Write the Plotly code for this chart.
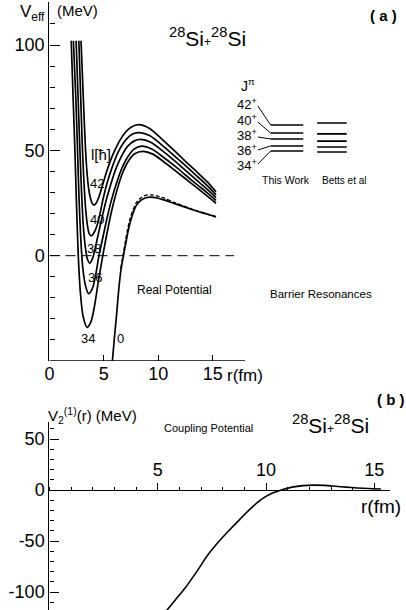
import plotly.graph_objects as go

W, H = 406, 610
FONT = "Liberation Sans, Arial, sans-serif"
BLACK = "black"

# ---------------- data : panel (a)  effective potentials V_eff(r) ----------------
r_34 = [2.0, 2.18, 2.35, 2.5, 2.65, 2.85, 3.1, 3.45, 3.8, 4.1, 4.5, 4.9, 5.3, 5.7, 6.2, 6.7, 7.2, 7.8, 8.6, 9.5, 10.5, 11.5, 12.5, 13.5, 14.5, 15.3]
v_34 = [102, 74, 48, 22, 0, -18, -29, -34, -31.5, -25, -12, 0, 11, 21, 31, 39, 44.5, 48.3, 49.5, 48.2, 44.6, 40.6, 36.5, 32.4, 28.3, 24.9]

r_36 = [2.2, 2.43, 2.58, 2.72, 2.88, 3.05, 3.3, 3.6, 3.95, 4.25, 4.55, 4.9, 5.3, 5.7, 6.2, 6.7, 7.2, 7.8, 8.5, 9.4, 10.5, 11.5, 12.5, 13.5, 14.5, 15.3]
v_36 = [102, 74, 50, 27, 8, -5, -14, -18, -15.5, -9, 0, 8.5, 18, 26.5, 35, 42, 47, 50.7, 52, 50.6, 46.6, 42.6, 38.3, 34, 29.8, 26.2]

r_38 = [2.45, 2.64, 2.8, 2.95, 3.1, 3.3, 3.5, 3.7, 3.95, 4.2, 4.5, 4.85, 5.25, 5.7, 6.2, 6.7, 7.2, 7.8, 8.4, 9.3, 10.5, 11.5, 12.5, 13.5, 14.5, 15.3]
v_38 = [102, 74, 50, 30, 15, 4, -1.8, -3.5, -1.5, 3.5, 10.5, 18.5, 27, 35, 42.5, 48, 52, 54.5, 55.2, 53.8, 49.3, 45, 40.5, 36, 31.5, 27.6]

r_40 = [2.7, 2.88, 3.02, 3.17, 3.33, 3.5, 3.65, 3.85, 4.05, 4.35, 4.65, 4.95, 5.35, 5.8, 6.3, 6.8, 7.3, 7.8, 8.3, 9.2, 10.5, 11.5, 12.5, 13.5, 14.5, 15.3]
v_40 = [102, 74, 52, 35, 22, 14, 10.5, 9.4, 10.5, 14, 20, 27.5, 35.5, 42.5, 49, 53.5, 56.5, 58.1, 58.4, 57, 51.8, 47.3, 42.7, 38, 33.3, 28.9]

r_42 = [2.9, 3.12, 3.27, 3.43, 3.6, 3.78, 3.95, 4.1, 4.3, 4.55, 4.85, 5.2, 5.6, 6.0, 6.5, 7.0, 7.5, 8.2, 9.2, 10.5, 11.5, 12.5, 13.5, 14.5, 15.3]
v_42 = [102, 74, 55, 41, 32, 27, 24.6, 24, 25, 28, 33, 39, 45, 50, 55, 58.7, 61, 62.2, 60.4, 54.5, 49.7, 44.8, 40, 35, 30.3]

r_l0 = [5.75, 5.95, 6.15, 6.35, 6.55, 6.8, 7.0, 7.2, 7.4, 7.7, 8.0, 8.4, 8.8, 9.3, 9.8, 10.5, 11.5, 12.6, 13.5, 14.5, 15.3]
v_l0 = [-52, -40, -29, -17, -7.5, 0, 5.5, 11, 15.5, 20.5, 24, 26.3, 27.4, 27.8, 27.5, 26.5, 24.7, 22.8, 21.2, 19.7, 18.4]

r_real = [6.55, 6.8, 7.0, 7.2, 7.4, 7.7, 8.0, 8.4, 8.8, 9.3, 9.8, 10.5, 11.5, 12.6, 13.5, 14.5, 15.3]
v_real = [-6, 1.5, 7.5, 13, 17.5, 22, 25.3, 27.5, 28.6, 28.9, 28.5, 27.4, 25.2, 23.1, 21.4, 19.8, 18.5]

l_labels = ["42", "40", "38", "36", "34", "0"]

# ---------------- data : level scheme (barrier resonances) ----------------
jpi_labels = ["42<sup>+</sup>", "40<sup>+</sup>", "38<sup>+</sup>", "36<sup>+</sup>", "34<sup>+</sup>"]
e_this_work = [62.0, 58.2, 55.4, 52.1, 49.7]
e_betts = [63.0, 57.8, 54.4, 51.6, 49.2]

# ---------------- data : panel (b) coupling potential ----------------
r_c = [5.3, 5.8, 6.3, 6.8, 7.3, 7.8, 8.3, 8.8, 9.3, 9.8, 10.3, 10.7, 11.2, 11.7, 12.2, 12.7, 13.2, 13.7, 14.2, 14.7, 15.3]
v_c = [-121, -108, -95, -80, -64, -51, -39.5, -28.5, -18, -9, -3, 0, 2.8, 4.3, 4.8, 4.5, 3.7, 2.8, 2.0, 1.4, 1.0]

# ---------------- geometry (pixel calibration of the page) ----------------
PX_FM_A, PX_MEV_A = 11.02, 2.107
X0 = 45
YA_ZERO, YA_BOT, YA_TOP = 255.7, 361, 2
PX_FM_B, PX_MEV_B = 21.93, 1.02
YB_ZERO, YB_TOP, YB_BOT = 490, 422, 610
XB_END = 390


def px(xp):
    return xp / W


def py(yp):
    return 1 - yp / H


fig = go.Figure()

line_style = dict(color=BLACK, width=1.7, shape="spline", smoothing=0.8)
for rr, vv in [(r_34, v_34), (r_36, v_36), (r_38, v_38), (r_40, v_40), (r_42, v_42), (r_l0, v_l0)]:
    fig.add_trace(go.Scatter(x=rr, y=vv, mode="lines", line=line_style, xaxis="x", yaxis="y",
                             hoverinfo="skip", showlegend=False))
fig.add_trace(go.Scatter(x=r_real, y=v_real, mode="lines",
                         line=dict(color=BLACK, width=1.3, dash="4px,2px", shape="spline", smoothing=0.8),
                         xaxis="x", yaxis="y", hoverinfo="skip", showlegend=False))

# level scheme
TW_X = ((269 - X0) / PX_FM_A, (302 - X0) / PX_FM_A)
BE_X = ((316 - X0) / PX_FM_A, (346 - X0) / PX_FM_A)
CONN_X = (256 - X0) / PX_FM_A
label_py = [104, 120, 135, 150, 165]
conn_py = [106, 122, 137, 150, 164]
for i, e in enumerate(e_this_work):
    fig.add_trace(go.Scatter(x=list(TW_X), y=[e, e], mode="lines", line=dict(color=BLACK, width=1.6),
                             xaxis="x", yaxis="y", hoverinfo="skip", showlegend=False))
    cy = (YA_ZERO - conn_py[i]) / PX_MEV_A
    fig.add_trace(go.Scatter(x=[CONN_X, TW_X[0]], y=[cy, e], mode="lines", line=dict(color=BLACK, width=1.0),
                             xaxis="x", yaxis="y", hoverinfo="skip", showlegend=False))
for e in e_betts:
    fig.add_trace(go.Scatter(x=list(BE_X), y=[e, e], mode="lines", line=dict(color=BLACK, width=1.6),
                             xaxis="x", yaxis="y", hoverinfo="skip", showlegend=False))

# coupling potential
fig.add_trace(go.Scatter(x=r_c, y=v_c, mode="lines", line=dict(color=BLACK, width=1.6, shape="spline", smoothing=0.8),
                         xaxis="x2", yaxis="y2", hoverinfo="skip", showlegend=False))

tickfont = dict(family=FONT, size=18, color=BLACK)

fig.update_layout(
    width=W, height=H, margin=dict(l=0, r=0, t=0, b=0),
    paper_bgcolor="white", plot_bgcolor="white",
    font=dict(family=FONT, color=BLACK),
    xaxis=dict(domain=[px(X0), 1], range=[0, (W - X0) / PX_FM_A], showgrid=False, zeroline=False,
               showline=False, ticks="inside", ticklen=6, tickwidth=1.2, tickcolor=BLACK,
               tickvals=[0, 5, 10, 15], ticktext=["0", "5", "10", "15"], tickfont=tickfont,
               anchor="y"),
    yaxis=dict(domain=[py(YA_BOT), py(YA_TOP)],
               range=[(YA_ZERO - YA_BOT) / PX_MEV_A, (YA_ZERO - YA_TOP) / PX_MEV_A],
               showgrid=False, zeroline=False, showline=True, linecolor=BLACK, linewidth=1.4,
               ticks="inside", ticklen=10, tickwidth=1.2, tickcolor=BLACK,
               tickvals=[-50, 0, 50, 100], ticktext=["-50", "0", "50", "100"], tickfont=tickfont,
               minor=dict(ticks="inside", dtick=10, tick0=0, ticklen=5, tickcolor=BLACK, tickwidth=1),
               anchor="x"),
    xaxis2=dict(domain=[px(X0), px(XB_END)], range=[0, (XB_END - X0) / PX_FM_B], showgrid=False,
                zeroline=False, showline=True, linecolor=BLACK, linewidth=1.4, side="top",
                anchor="free", position=py(YB_ZERO),
                ticks="outside", ticklen=7, tickwidth=1.2, tickcolor=BLACK,
                tickvals=[5, 10, 15], ticktext=["5", "10", "15"], tickfont=tickfont,
                minor=dict(ticks="outside", dtick=1, tick0=0, ticklen=3, tickcolor=BLACK, tickwidth=1)),
    xaxis3=dict(overlaying="x2", range=[0, (XB_END - X0) / PX_FM_B], showgrid=False, zeroline=False,
                showline=False, side="bottom", anchor="free", position=py(YB_ZERO),
                ticks="outside", ticklen=3, tickwidth=1, tickcolor=BLACK, dtick=1, tick0=0,
                showticklabels=False),
    yaxis2=dict(domain=[0, py(YB_TOP)],
                range=[(YB_ZERO - YB_BOT) / PX_MEV_B, (YB_ZERO - YB_TOP) / PX_MEV_B],
                showgrid=False, zeroline=False, showline=True, linecolor=BLACK, linewidth=1.4,
                ticks="inside", ticklen=9, tickwidth=1.2, tickcolor=BLACK,
                tickvals=[-100, -50, 0, 50], ticktext=["-100", "-50", "0", "50"], tickfont=tickfont,
                minor=dict(ticks="inside", dtick=10, tick0=0, ticklen=4, tickcolor=BLACK, tickwidth=1),
                anchor="x2"),
)

# axis line of panel (a) and dashed zero line
fig.add_shape(type="line", xref="x", yref="y", x0=0, x1=(243 - X0) / PX_FM_A,
              y0=(YA_ZERO - YA_BOT) / PX_MEV_A, y1=(YA_ZERO - YA_BOT) / PX_MEV_A,
              line=dict(color=BLACK, width=1.4))
fig.add_shape(type="line", xref="x", yref="y", x0=0, x1=(232 - X0) / PX_FM_A, y0=0, y1=0,
              line=dict(color=BLACK, width=1.0, dash="10px,6px"))


def ann(text, xp, yp, size, **kw):
    d = dict(text=text, x=px(xp), y=py(yp), xref="paper", yref="paper", showarrow=False,
             font=dict(family=FONT, size=size, color=BLACK), xanchor="center", yanchor="middle")
    d.update(kw)
    return d


anns = [
    ann("V<sub>eff</sub>", 28, 13, 17),
    ann("(MeV)", 73, 11, 15),
    ann("<sup>28</sup>Si<span style='font-size:12px'>+</span><sup>28</sup>Si", 205, 37, 21),
    ann("<b>( a )</b>", 383, 15, 15),
    ann("l[ħ]", 97, 155, 15),
    ann("Real Potential", 172, 290, 12),
    ann("Barrier Resonances", 320, 294, 11.5),
    ann("J<sup>π</sup>", 246, 85, 14),
    ann("This Work", 285, 180, 10.5),
    ann("Betts et al", 343, 180, 10),
    ann("r(fm)", 243, 375, 17),
    ann("V<sub>2</sub><sup>(1)</sup>(r) (MeV)", 89, 415, 15),
    ann("Coupling Potential", 206, 428, 11),
    ann("<sup>28</sup>Si<span style='font-size:12px'>+</span><sup>28</sup>Si", 330, 424, 21),
    ann("<b>( b )</b>", 391, 400, 15),
    ann("r(fm)", 381, 506, 19),
]
l_pos = [(93, 183), (93, 219), (90, 248), (91, 277), (84, 338), (117, 338)]
for t, (xp, yp) in zip(l_labels, l_pos):
    anns.append(ann(t, xp, yp, 13))
for t, yp in zip(jpi_labels, label_py):
    anns.append(ann(t, 245, yp, 13))
fig.update_layout(annotations=anns)

fig.write_html("out.html", config={"displayModeBar": False},
               post_script="document.body.style.margin='0';")
